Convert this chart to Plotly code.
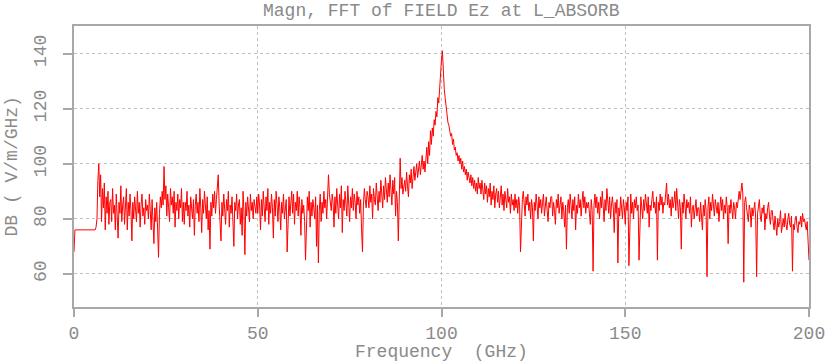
import numpy as np
import plotly.graph_objects as go

# Frequency grid (GHz), 0.25 GHz spacing
freq_step = 0.25
freq_start = 0.0

# Magnitude in dB (0-50 GHz)
db_000_050 = [
    68, 76, 76, 76, 76, 76, 76, 76, 76, 76, 76, 76, 76, 76, 76, 76, 76, 76, 76, 76,
    76, 76, 76, 76, 77, 80, 94, 100, 88, 96, 79, 91, 84, 93, 76, 88, 82, 90, 78, 86,
    87, 79, 91, 82, 85, 76, 89, 80, 73, 86, 82, 92, 79, 85, 88, 78, 84, 91, 76, 86,
    81, 89, 83, 72, 86, 80, 88, 84, 79, 90, 82, 86, 77, 85, 89, 81, 84, 78, 87, 83,
    85, 80, 89, 83, 76, 87, 81, 71, 84, 79, 86, 74, 66, 82, 88, 84, 90, 85, 99, 87,
    92, 81, 89, 84, 79, 91, 85, 88, 82, 90, 77, 86, 83, 89, 80, 87, 84, 91, 79, 86,
    78, 86, 83, 90, 81, 85, 77, 88, 84, 80, 87, 74, 85, 89, 82, 86, 79, 91, 84, 75,
    87, 82, 90, 85, 80, 88, 76, 83, 69, 86, 81, 89, 84, 90, 82, 87, 92, 96, 85, 80,
    72, 86, 81, 89, 84, 78, 87, 83, 90, 77, 85, 82, 88, 79, 70, 86, 83, 89, 80, 85,
    87, 78, 84, 74, 90, 82, 67, 86, 81, 88, 84, 79, 89, 83, 86, 80, 87, 84, 82, 88,
]
# 50-100 GHz
db_050_100 = [
    82, 89, 85, 76, 87, 81, 90, 84, 79, 88, 83, 91, 78, 86, 82, 89, 84, 73, 87, 81,
    90, 85, 79, 88, 84, 76, 86, 82, 89, 80, 85, 87, 68, 83, 88, 81, 86, 90, 82, 89,
    78, 86, 83, 90, 81, 88, 84, 74, 87, 82, 85, 79, 65, 84, 88, 83, 90, 77, 86, 81,
    87, 84, 80, 88, 70, 85, 64, 83, 89, 79, 86, 82, 90, 84, 87, 80, 88, 96, 89, 85,
    83, 89, 86, 77, 88, 82, 91, 85, 80, 89, 84, 92, 75, 87, 83, 90, 86, 81, 92, 85,
    79, 88, 84, 91, 83, 89, 86, 80, 90, 85, 88, 82, 87, 76, 68, 85, 91, 87, 84, 90,
    88, 84, 92, 86, 89, 80, 91, 87, 85, 93, 88, 83, 90, 86, 94, 89, 84, 92, 87, 95,
    90, 86, 93, 88, 96, 91, 85, 94, 89, 95, 81, 90, 86, 72, 93, 102, 91, 95, 89, 93,
    94, 90, 97, 92, 88, 96, 93, 98, 91, 95, 99, 94, 97, 100, 95, 98, 101, 96, 99, 103,
    98, 101, 97, 104, 106, 100, 108, 103, 112, 107, 113, 110, 116, 114, 119, 117, 124, 122, 129, 134,
]
# 100-150 GHz
db_100_150 = [
    138, 141, 133, 127, 124, 120, 118, 115, 114, 112, 110, 111, 107, 109, 105, 106, 103, 104, 101, 103,
    100, 102, 98, 101, 97, 99, 96, 98, 94, 97, 95, 93, 96, 92, 95, 91, 94, 90, 93, 89,
    95, 91, 93, 89, 94, 90, 87, 93, 89, 92, 86, 91, 88, 93, 85, 90, 87, 92, 84, 89,
    91, 86, 90, 84, 88, 92, 85, 89, 83, 90, 87, 84, 91, 86, 88, 82, 89, 85, 87, 83,
    89, 84, 87, 82, 88, 85, 68, 83, 87, 90, 84, 81, 88, 85, 89, 83, 86, 80, 87, 84,
    72, 86, 83, 89, 85, 80, 88, 84, 87, 82, 86, 89, 81, 85, 88, 83, 79, 86, 84, 88,
    88, 81, 86, 83, 78, 87, 84, 89, 82, 85, 88, 80, 86, 83, 77, 85, 69, 84, 87, 82,
    89, 85, 80, 87, 83, 88, 76, 85, 82, 89, 84, 87, 81, 86, 90, 84, 88, 82, 86, 84,
    86, 82, 78, 87, 83, 61, 85, 89, 84, 88, 82, 86, 80, 88, 84, 90, 85, 79, 87, 83,
    91, 86, 82, 88, 80, 85, 88, 84, 75, 86, 82, 87, 64, 84, 81, 88, 85, 80, 87, 84,
]
# 150-200 GHz
db_150_200 = [
    78, 86, 83, 88, 63, 84, 89, 82, 86, 80, 87, 84, 88, 83, 85, 65, 83, 88, 84, 80,
    87, 83, 89, 85, 82, 88, 77, 85, 83, 87, 90, 84, 86, 82, 88, 65, 86, 83, 89, 85,
    88, 82, 86, 85, 90, 93, 85, 89, 84, 87, 81, 88, 84, 86, 90, 83, 91, 85, 80, 87,
    84, 69, 86, 82, 89, 85, 80, 87, 84, 86, 82, 88, 77, 84, 85, 80, 83, 87, 81, 84,
    84, 79, 86, 82, 76, 85, 81, 87, 83, 59, 84, 88, 80, 86, 83, 89, 85, 81, 87, 84,
    82, 86, 79, 84, 88, 83, 87, 80, 85, 82, 88, 84, 71, 85, 82, 87, 83, 80, 86, 84,
    80, 86, 84, 88, 90, 87, 91, 93, 89, 57, 86, 88, 84, 82, 79, 85, 83, 77, 84, 81,
    83, 86, 80, 59, 82, 85, 87, 81, 79, 84, 82, 85, 76, 82, 80, 84, 86, 81, 78, 83,
    83, 79, 76, 81, 78, 74, 80, 77, 79, 83, 75, 79, 80, 77, 82, 78, 76, 80, 82, 78,
    77, 81, 61, 78, 76, 80, 81, 77, 75, 79, 78, 81, 77, 82, 79, 80, 78, 76, 79, 74,
    65,
]

db = db_000_050 + db_050_100 + db_100_150 + db_150_200
freq = freq_start + freq_step * np.arange(len(db))

x_ticks = [0, 50, 100, 150, 200]
y_ticks = [60, 80, 100, 120, 140]

title_text = "Magn, FFT of FIELD Ez at L_ABSORB"
x_title = "Frequency  (GHz)"
y_title = "DB ( V/m/GHz)"

FONT = "Liberation Mono, Courier New, monospace"
FS = 18
GREY = "#8a8a8a"
AXIS = "#a8a8a8"

fig = go.Figure()
fig.add_trace(go.Scatter(
    x=freq, y=db, mode="lines",
    line=dict(color="#ff0000", width=1),
    hoverinfo="skip", showlegend=False,
))

fig.update_layout(
    width=827, height=363,
    margin=dict(l=74, r=18, t=26, b=56, autoexpand=False),
    paper_bgcolor="white", plot_bgcolor="white",
    font=dict(family=FONT, size=FS, color=GREY),
    annotations=[
        dict(text=title_text, xref="paper", yref="paper", x=0.5, y=1,
             xanchor="center", yanchor="middle", yshift=15, showarrow=False,
             font=dict(family=FONT, size=FS, color=GREY)),
        dict(text=x_title, xref="paper", yref="paper", x=0.5, y=0,
             xanchor="center", yanchor="middle", yshift=-45, showarrow=False,
             font=dict(family=FONT, size=FS, color=GREY)),
        dict(text=y_title, xref="paper", yref="paper", x=0, y=0.5,
             xanchor="center", yanchor="middle", xshift=-63, textangle=-90,
             showarrow=False, font=dict(family=FONT, size=FS, color=GREY)),
    ],
)
fig.update_xaxes(
    range=[0, 200], tickvals=x_ticks, ticktext=[str(v) for v in x_ticks],
    showline=True, linecolor=AXIS, linewidth=2, mirror=True,
    ticks="outside", ticklen=8, tickwidth=1.5, tickcolor=AXIS,
    showgrid=True, gridcolor="#c0c0c0", griddash="dot", gridwidth=1,
    zeroline=False, automargin=False,
    tickfont=dict(family=FONT, size=FS, color=GREY),
)
fig.update_yaxes(
    range=[48, 150], tickvals=y_ticks, ticktext=[str(v) for v in y_ticks],
    showline=True, linecolor=AXIS, linewidth=2, mirror=True,
    ticks="outside", ticklen=9, tickwidth=1.5, tickcolor=AXIS,
    showgrid=True, gridcolor="#c0c0c0", griddash="dot", gridwidth=1,
    zeroline=False, tickangle=-90, automargin=False, ticklabelstandoff=10,
    tickfont=dict(family=FONT, size=FS, color=GREY),
)

fig.write_html("out.html", config={"displayModeBar": False},
               post_script="document.body.style.margin='0';")
